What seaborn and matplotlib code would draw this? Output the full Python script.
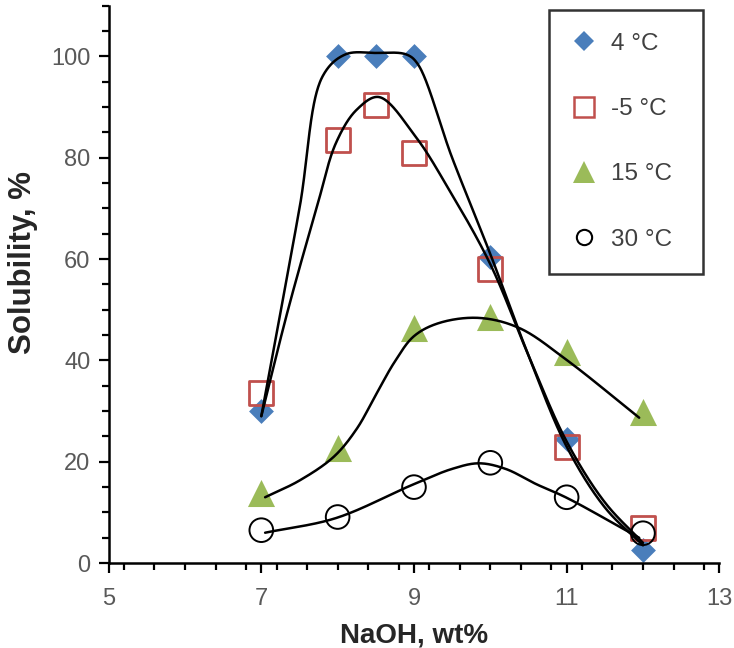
import numpy as np
import pandas as pd
import matplotlib
matplotlib.use("Agg")
import matplotlib.pyplot as plt
from matplotlib.lines import Line2D
from matplotlib.ticker import MultipleLocator
import seaborn as sns

# ---- data ----
naoh = [7, 8, 8.5, 9, 10, 11, 12]
sol_4C = [30, 100, 100, 100, 60.5, 24.5, 2.5]
sol_m5C = [33.5, 83.5, 90.5, 81, 58, 23, 7]
naoh_15 = [7, 8, 9, 10, 11, 12]
sol_15C = [13.8, 22.7, 46.4, 48.5, 41.7, 29.8]
sol_30C = [6.5, 9.1, 15, 19.8, 13, 5.9]

# trend curves (knots)
c4_x = [7, 7.5, 7.8, 8.1, 8.5, 8.9, 9.05, 9.5, 10, 10.5, 11, 11.5, 12]
c4_y = [29, 70, 96, 100.4, 100.7, 100.4, 98.5, 80, 61, 41, 23, 11, 3.5]
cm5_x = [7, 7.35, 7.73, 7.98, 8.25, 8.54, 9.02, 9.46, 10, 10.5, 11, 11.5, 12]
cm5_y = [29, 50, 70.4, 83, 89.5, 92, 84.2, 73.7, 59, 41, 24, 12, 4]
c15_x = [7.05, 7.5, 7.95, 8.25, 8.5, 8.75, 9.0, 9.33, 9.85, 10.38, 11, 11.95]
c15_y = [13, 16.3, 21.0, 26.5, 33.2, 39.8, 44.8, 47.4, 48.4, 46.4, 40.1, 28.7]
c30_x = [7.05, 7.98, 8.97, 9.5, 9.85, 10.2, 10.6, 11, 11.95]
c30_y = [6, 8.9, 15.4, 18.6, 19.7, 18.6, 15.6, 12.9, 5]

labels = ["4 °C", "-5 °C", "15 °C", "30 °C"]
xticks = [5, 7, 9, 11, 13]
yticks = [0, 20, 40, 60, 80, 100]

BLUE = "#4A7EBB"
RED = "#C0504D"
GREEN = "#9BBB59"
GREY = "#595959"

YS = 5.06 / 76.3  # y-units to x-units aspect (pixel-based)


def catmull_rom(xs, ys, n=60, alpha=0.5):
    P = np.column_stack([np.asarray(xs, float), np.asarray(ys, float) * YS])
    P = np.vstack([2 * P[0] - P[1], P, 2 * P[-1] - P[-2]])
    out = []
    for i in range(1, len(P) - 2):
        p0, p1, p2, p3 = P[i - 1], P[i], P[i + 1], P[i + 2]
        t0 = 0.0
        t1 = t0 + np.linalg.norm(p1 - p0) ** alpha
        t2 = t1 + np.linalg.norm(p2 - p1) ** alpha
        t3 = t2 + np.linalg.norm(p3 - p2) ** alpha
        t = np.linspace(t1, t2, n)[:, None]
        a1 = (t1 - t) / (t1 - t0) * p0 + (t - t0) / (t1 - t0) * p1
        a2 = (t2 - t) / (t2 - t1) * p1 + (t - t1) / (t2 - t1) * p2
        a3 = (t3 - t) / (t3 - t2) * p2 + (t - t2) / (t3 - t2) * p3
        b1 = (t2 - t) / (t2 - t0) * a1 + (t - t0) / (t2 - t0) * a2
        b2 = (t3 - t) / (t3 - t1) * a2 + (t - t1) / (t3 - t1) * a3
        c = (t2 - t) / (t2 - t1) * b1 + (t - t1) / (t2 - t1) * b2
        out.append(c if i == 1 else c[1:])
    C = np.vstack(out)
    return C[:, 0], C[:, 1] / YS


sns.set_theme(style="ticks")
plt.rcParams["font.family"] = ["Liberation Sans", "DejaVu Sans"]

fig = plt.figure(figsize=(7.34, 6.48), dpi=100)
ax = fig.add_axes([0.148, 0.131, 0.832, 0.860])

# markers
sns.scatterplot(x=naoh, y=sol_4C, marker="D", s=160, color=BLUE, edgecolor=BLUE,
                linewidth=0, ax=ax, zorder=2)
sns.scatterplot(x=naoh, y=sol_m5C, marker="s", s=300, facecolor="none", edgecolor=RED,
                linewidth=2.0, ax=ax, zorder=2)
sns.scatterplot(x=naoh_15, y=sol_15C, marker="^", s=380, color=GREEN, edgecolor=GREEN,
                linewidth=0, ax=ax, zorder=2)
sns.scatterplot(x=naoh_15, y=sol_30C, marker="o", s=290, facecolor="none", edgecolor="black",
                linewidth=1.4, ax=ax, zorder=2)

# smooth trend curves
for cx, cy in [(c4_x, c4_y), (cm5_x, cm5_y), (c15_x, c15_y), (c30_x, c30_y)]:
    sx, sy = catmull_rom(cx, cy)
    sns.lineplot(x=sx, y=sy, sort=False, estimator=None, color="black",
                 linewidth=1.8, ax=ax, zorder=3)

ax.set_xlim(5, 13)
ax.set_ylim(0, 110)
ax.set_xticks(xticks)
ax.set_yticks(yticks)
ax.xaxis.set_minor_locator(MultipleLocator(0.4))
ax.yaxis.set_minor_locator(MultipleLocator(5))
ax.tick_params(which="major", direction="out", length=7, width=1.6, color="black",
               labelsize=17, labelcolor=GREY)
ax.tick_params(axis="x", which="major", pad=11)
ax.tick_params(axis="y", which="major", pad=6)
ax.tick_params(which="minor", direction="out", length=5, width=1.6, color="black")
for s in ["top", "right"]:
    ax.spines[s].set_visible(False)
for s in ["left", "bottom"]:
    ax.spines[s].set_linewidth(1.8)
    ax.spines[s].set_color("black")

ax.set_xlabel("NaOH, wt%", fontsize=20, fontweight="bold", labelpad=9)
ax.set_ylabel("Solubility, %", fontsize=22.5, fontweight="bold")
ax.yaxis.set_label_coords(-0.116, 0.54)

handles = [
    Line2D([], [], linestyle="none", marker="D", markersize=10.5, color=BLUE, markeredgewidth=0),
    Line2D([], [], linestyle="none", marker="s", markersize=14, markerfacecolor="none",
           markeredgecolor=RED, markeredgewidth=1.8),
    Line2D([], [], linestyle="none", marker="^", markersize=16, color=GREEN, markeredgewidth=0),
    Line2D([], [], linestyle="none", marker="o", markersize=11, markerfacecolor="none",
           markeredgecolor="black", markeredgewidth=1.5),
]
leg = ax.legend(handles, labels, loc="upper left", bbox_to_anchor=(0.721, 0.0, 0.252, 0.993),
                mode="expand", frameon=True, fancybox=False, edgecolor="black", fontsize=17.5,
                labelspacing=1.78, borderpad=0.95, handletextpad=0.6, borderaxespad=0,
                handlelength=1.0)
leg.get_frame().set_linewidth(1.8)
for t in leg.get_texts():
    t.set_color("#404040")

fig.savefig("out.png", dpi=100)
